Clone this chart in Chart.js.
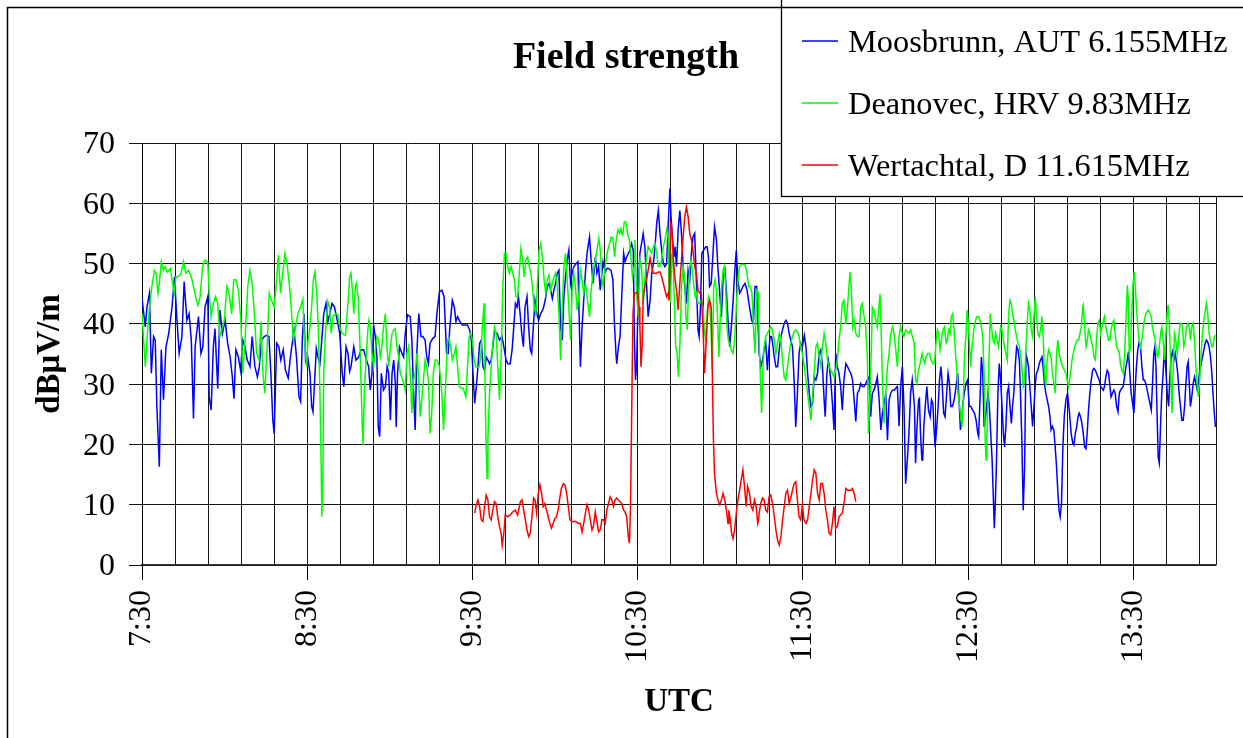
<!DOCTYPE html>
<html><head><meta charset="utf-8">
<script src="https://cdn.jsdelivr.net/npm/chart.js@4.4.1/dist/chart.umd.min.js"></script>
<style>html,body{margin:0;padding:0;background:#fff;overflow:hidden}</style>
</head><body>
<canvas id="c" width="1243" height="738"></canvas>
<script>
// ---------- data (minutes after 07:30 UTC, dBµV/m) ----------
const chartTitle = 'Field strength';
const xTitle = 'UTC';
const yTitle = 'dBμV/m';
const seriesNames = ['Moosbrunn, AUT 6.155MHz', 'Deanovec, HRV 9.83MHz', 'Wertachtal, D 11.615MHz'];
const seriesColors = ['#0000ff', '#00ff00', '#ff0000'];
const tickLabels = ['7:30', '8:30', '9:30', '10:30', '11:30', '12:30', '13:30'];
const gridStepMin = 12, labelStepMin = 60, spanMin = 390;
const yMin = 0, yMax = 70, yStep = 10;

const moosbrunn = [[0,44.2],[1.2,39.5],[1.8,42.8],[2.7,45.1],[3.4,31.8],[4.2,37.9],[4.8,37.3],[5.4,26.3],[6.3,16.3],[7.0,35.7],[7.8,27.4],[8.7,36.2],[9.7,38.4],[10.9,42.8],[11.8,47.8],[12.7,40.6],[13.5,35.1],[14.5,37.9],[15.3,47.0],[16.3,40.6],[17.1,41.7],[17.9,37.3],[18.7,24.3],[19.3,36.2],[20.5,41.2],[21.4,35.1],[22.1,36.2],[22.9,42.8],[23.9,44.5],[24.4,27.9],[25.1,25.7],[25.9,36.2],[26.5,39.2],[27.5,29.3],[28.3,42.3],[29.2,38.4],[30.2,40.6],[31.1,36.8],[32.0,34.5],[32.8,31.2],[33.4,27.6],[34.1,35.7],[35.0,34.5],[35.8,32.3],[36.6,37.3],[37.4,36.2],[38.2,34.0],[39.2,32.9],[40.0,37.9],[41.0,32.9],[41.9,31.2],[42.6,32.9],[43.4,37.3],[44.4,37.9],[45.2,38.1],[46.1,37.9],[46.8,31.8],[47.5,24.0],[48.0,21.8],[48.9,36.8],[49.7,36.2],[50.4,34.0],[51.3,35.7],[52.1,32.3],[53.1,31.0],[53.9,34.5],
[55.2,39.0],[56.1,34.5],[57.0,27.9],[57.6,27.1],[58.2,37.3],[58.8,41.7],[59.4,34.0],[60.0,35.1],[61.0,31.8],[61.6,26.3],[62.1,25.4],[62.7,30.7],[63.3,35.9],[63.9,34.5],[64.6,33.4],[65.2,36.8],[66.0,41.7],[66.8,43.4],[67.5,40.4],[68.2,41.7],[69.0,43.4],[69.9,42.8],[70.9,40.6],[71.8,38.4],[72.7,31.8],[73.3,29.6],[74.1,36.2],[74.8,35.1],[75.4,32.1],[75.9,32.9],[76.9,36.2],[77.7,34.0],[78.7,34.5],[79.5,35.7],[80.5,35.7],[81.5,34.0],[82.3,32.9],[82.9,29.0],[83.5,31.8],[84.1,39.8],[84.7,37.9],[85.3,34.5],[85.8,22.9],[86.3,21.3],[86.9,31.8],[87.7,29.0],[88.4,29.6],[89.0,32.9],[89.6,31.8],[90.2,24.0],[90.8,31.8],[91.4,34.0],[92.0,30.1],[92.3,22.9],[92.8,31.8],[93.5,36.2],[94.4,35.1],[95.0,34.5],[95.6,38.4],[96.4,41.5],[97.4,41.2],[98.0,37.3],[98.6,29.0],[99.2,22.4],[99.8,35.1],[100.5,41.7],[101.3,37.9],[102.0,37.9],[102.8,37.3],[103.4,34.5],[104.0,33.4],[104.6,36.8],[105.6,37.6],[106.4,37.9],[107.1,41.7],[108.0,45.3],[108.9,45.6],[109.7,44.5],
[110.6,35.1],[111.2,35.1],[111.8,39.5],[112.7,43.9],[113.4,42.8],[114.0,40.4],[114.6,41.2],[115.4,40.4],[116.3,39.8],[117.2,39.8],[118.2,39.8],[119.0,39.0],[119.6,37.3],[120.2,31.8],[120.8,26.8],[121.4,29.6],[122.0,32.9],[122.6,36.8],[123.2,37.3],[123.8,32.9],[124.4,32.3],[125.0,34.5],[125.6,34.0],[126.2,33.4],[126.8,34.0],[127.4,36.2],[128.0,38.7],[129.0,38.4],[129.8,37.3],[130.7,37.9],[131.4,36.2],[132.2,34.0],[132.8,33.4],[133.7,33.4],[134.4,35.7],[135.0,39.5],[135.6,43.4],[136.2,42.8],[136.7,44.5],[137.3,41.7],[137.9,38.4],[138.5,36.2],[139.1,42.8],[139.8,44.5],[140.4,39.5],[141.0,35.7],[141.5,35.1],[142.1,39.5],[142.7,43.9],[143.4,41.7],[144.0,40.6],[144.8,41.7],[145.7,42.5],[146.4,43.9],[147.2,46.2],[147.8,46.7],[148.4,45.6],[149.0,44.2],[149.6,45.6],[150.2,46.7],[150.8,48.4],[151.4,48.9],[152.0,39.5],[152.6,37.3],[153.2,44.5],[153.8,47.8],[154.4,50.6],[155.0,52.2],[155.6,46.7],[156.2,48.4],[156.8,49.5],[157.7,50.0],[158.3,50.3],[158.7,41.7],[159.2,32.9],[159.8,39.5],[160.4,43.9],[161.0,48.4],[161.6,51.7],[162.5,54.4],[163.1,50.6],[163.8,46.7],[164.6,51.1],[165.2,48.4],[165.8,49.5],[166.4,45.6],[167.4,50.3],
[168.2,48.6],[168.8,49.2],[169.4,49.2],[170.3,48.9],[171.0,47.3],[171.5,40.6],[172.1,35.1],[172.4,33.4],[173.0,36.2],[173.6,37.9],[174.2,44.5],[174.9,51.7],[175.4,50.3],[176.0,51.1],[176.6,51.7],[177.2,52.2],[177.8,53.3],[178.4,52.2],[178.8,37.3],[179.2,30.7],[179.6,32.9],[180.2,45.1],[180.8,51.7],[181.4,53.3],[182.0,55.0],[182.6,52.8],[183.2,46.7],[183.8,41.2],[184.5,43.9],[185.1,48.4],[185.7,50.0],[186.3,52.8],[186.9,56.7],[187.5,58.8],[188.1,55.0],[188.7,52.2],[189.3,50.0],[189.9,49.5],[190.5,50.0],[191.1,56.7],[191.7,62.5],[192.1,57.8],[192.7,53.9],[193.2,51.1],[193.6,52.8],[194.1,49.5],[194.7,55.6],[195.3,58.8],[195.9,55.0],[196.5,49.5],[197.1,46.2],[197.7,43.4],[198.3,48.9],[198.9,47.3],[199.5,51.7],[200.1,54.4],[200.7,55.0],[201.3,47.3],[201.9,39.0],[202.3,37.9],[202.8,42.8],[203.3,51.7],[203.9,52.2],[204.7,52.8],[205.2,52.8],[205.7,51.1],[206.1,46.2],[206.7,46.7],[207.4,52.2],[207.9,56.1],[208.6,53.9],[209.1,49.5],[209.8,45.1],[210.4,41.2],[211.0,47.3],[211.6,49.5],[212.2,45.6],[212.8,40.6],[213.4,36.2],[214.0,39.5],[214.6,43.4],[215.2,48.4],[215.8,52.2],[216.4,47.3],[217.0,45.1],[217.6,45.6],[218.2,46.2],[219.0,46.7],[219.7,45.6],[220.6,42.8],[221.4,40.6],[222.0,40.0],[222.6,46.2],[223.2,46.2],
[224.1,35.1],[224.7,32.9],[225.3,34.0],[225.9,35.7],[226.5,36.8],[227.1,32.3],[227.5,35.1],[228.1,37.9],[228.6,37.9],[229.0,36.8],[229.6,34.5],[230.2,32.9],[230.8,32.9],[231.4,35.7],[232.0,37.9],[232.6,39.0],[233.2,40.1],[233.8,40.6],[234.4,40.1],[235.0,38.4],[235.6,37.3],[236.2,36.2],[236.8,30.7],[237.4,22.9],[238.0,28.5],[238.6,35.1],[239.2,36.8],[239.8,36.2],[240.5,38.1],[241.1,36.2],[241.7,31.8],[242.3,28.5],[242.9,26.3],[243.5,26.8],[244.1,31.2],[244.7,30.7],[245.3,31.8],[245.9,35.1],[246.5,35.7],[247.1,32.9],[247.7,27.4],[248.1,24.6],[248.7,31.8],[249.2,34.0],[249.6,32.9],[250.1,30.7],[250.7,26.8],[251.3,22.4],[251.9,35.1],[252.5,32.9],[253.1,31.8],[253.7,29.6],[254.3,25.7],[254.9,30.7],[255.6,33.4],[256.2,32.9],[256.8,32.3],[257.4,31.8],[258.0,30.7],[258.6,27.4],[259.2,23.8],[259.8,28.5],[260.4,29.0],[261.0,30.1],[261.6,29.6],[262.2,29.6],[262.8,30.1],[263.4,30.7],[264.0,31.2],[264.6,24.6],[265.2,28.5],[265.8,29.0],[266.5,30.1],[267.0,31.2],[267.6,27.9],[268.3,22.4],[268.9,25.2],[269.5,26.8],[270.1,28.5],[270.7,20.7],[271.3,27.4],[271.9,28.5],[272.5,29.0],[273.1,29.0],[273.7,29.3],[274.3,29.6],[274.9,23.0],[275.5,29.6],[276.1,32.9],[276.7,26.3],[277.3,13.5],[277.9,17.4],[278.5,21.8],[279.1,28.5],[279.7,30.7],
[280.5,26.3],[280.9,16.9],[281.4,22.9],[282.0,27.4],[282.3,27.6],[282.7,21.8],[283.2,17.4],[283.5,17.4],[283.9,22.9],[284.5,26.8],[285.0,29.6],[285.6,25.7],[286.2,24.6],[286.7,27.4],[287.2,26.8],[287.5,23.5],[288.0,19.6],[288.6,22.9],[289.1,26.3],[289.6,30.7],[290.1,32.9],[290.5,30.7],[291.1,25.2],[291.6,24.6],[292.2,28.5],[292.7,31.8],[293.2,30.1],[293.7,26.3],[294.2,26.3],[294.6,26.8],[295.1,27.9],[295.6,29.6],[296.2,31.8],[296.8,26.3],[297.2,22.4],[297.7,24.0],[298.0,26.3],[298.6,28.5],[299.2,30.1],[299.8,30.7],[300.4,26.3],[301.0,26.3],[301.6,25.7],[302.3,25.2],[302.9,24.0],[303.5,21.8],[303.8,21.3],[304.3,27.4],[304.8,34.5],[305.3,31.8],[305.8,22.9],[306.2,24.0],[306.7,26.3],[307.2,28.5],[307.7,26.3],[308.2,21.8],[308.7,17.4],[309.1,11.9],[309.5,6.1],[309.9,10.8],[310.3,17.4],[310.8,28.5],[311.3,33.4],[311.8,30.7],[312.3,26.3],[312.8,21.8],[313.2,19.6],[313.7,22.9],[314.2,28.5],[314.7,29.6],[315.2,26.3],[315.7,23.5],[316.1,26.3],[316.6,28.5],[317.1,32.9],[317.6,36.2],[318.1,35.7],[318.6,34.0],[319.0,28.5],[319.5,20.7],[320.0,9.1],[320.5,16.3],[321.0,35.1],[321.5,34.0],[321.9,32.9],[322.4,29.6],[322.9,26.3],[323.4,23.0],[323.9,26.3],[324.4,30.1],[324.8,31.8],[325.3,32.3],[325.8,33.4],[326.3,34.0],[326.8,34.5],[327.2,32.9],[327.7,30.1],[328.2,28.5],[328.7,27.4],[329.2,26.3],[329.7,24.6],[330.1,22.4],[330.6,23.0],[331.1,22.4],[331.6,19.6],[332.1,16.3],[332.6,11.9],[333.0,9.1],[333.4,8.0],[333.9,10.2],[334.4,19.6],[334.9,24.6],[335.5,27.4],[336.1,28.5],
[336.8,25.2],[337.4,21.8],[338.0,20.2],[338.4,19.9],[338.9,21.8],[339.4,22.9],[339.9,24.6],[340.3,25.2],[340.8,24.6],[341.3,23.5],[341.8,21.8],[342.3,19.6],[342.8,19.3],[343.3,22.4],[343.7,25.7],[344.2,28.5],[344.7,30.7],[345.2,32.3],[345.7,32.6],[346.2,32.3],[346.6,31.8],[347.1,31.2],[347.6,30.7],[348.1,29.6],[348.6,29.3],[349.1,29.0],[349.5,29.6],[350.0,31.2],[350.5,32.3],[351.0,31.8],[351.5,29.6],[351.9,27.9],[352.4,28.5],[352.9,29.0],[353.4,28.5],[353.9,26.3],[354.4,25.4],[354.9,28.5],[355.3,29.0],[355.8,29.3],[356.3,29.6],[356.8,31.2],[357.3,32.9],[357.8,34.0],[358.2,35.4],[358.7,31.8],[359.2,28.5],[359.7,26.8],[360.2,25.2],[360.7,29.6],[361.1,32.9],[361.6,35.7],[362.1,37.0],[362.6,36.2],[363.1,32.9],[363.6,30.7],[364.0,30.7],[364.5,30.1],[365.0,29.0],[365.5,27.9],[366.0,26.8],[366.5,25.7],[366.9,29.6],[367.4,35.1],[367.8,36.2],[368.2,32.9],[368.6,25.2],[369.0,17.9],[369.4,16.9],[369.9,23.5],[370.3,28.5],[370.8,31.8],[371.3,36.2],[371.8,32.3],[372.3,28.5],[372.8,26.3],[373.2,30.7],[373.7,34.5],[374.2,35.4],[374.7,34.0],[375.2,35.1],[375.7,33.4],[376.1,31.8],[376.6,28.5],[377.1,26.3],[377.6,24.0],[378.1,24.0],[378.6,26.3],[379.0,29.6],[379.5,32.9],[379.9,33.7],[380.3,30.1],[380.7,26.3],[381.2,27.9],[381.7,30.1],[382.2,31.2],[382.7,30.1],[383.2,29.0],[383.6,30.1],[384.1,32.3],[384.6,33.4],[385.1,34.5],[385.6,35.7],[386.1,36.8],[386.5,37.3],[387.0,37.0],[387.5,36.2],[388.0,34.5],[388.5,31.8],[388.9,28.5],[389.4,25.2],[389.8,22.9]];

const deanovec = [[0,41.7],[1.2,32.9],[1.8,37.3],[2.7,42.8],[3.6,46.2],[4.5,48.9],[5.1,48.4],[5.8,45.1],[6.3,46.7],[7.0,50.3],[7.8,48.9],[8.4,49.5],[9.2,48.6],[10.3,49.2],[10.9,47.3],[11.7,45.1],[12.3,47.8],[13.3,47.9],[14.2,48.4],[15.1,50.3],[15.9,48.4],[16.9,48.9],[17.9,47.8],[18.7,46.2],[19.5,44.5],[20.3,43.1],[21.1,44.5],[22.0,49.5],[22.9,50.6],[23.9,50.0],[24.4,45.1],[25.1,41.2],[25.9,43.4],[26.7,44.5],[27.5,43.4],[28.3,37.9],[29.0,39.0],[29.9,40.6],[30.8,46.2],[31.6,45.1],[32.6,41.7],[33.3,47.3],[34.1,47.3],[35.0,45.6],[35.9,40.6],[36.6,31.8],[37.4,37.3],[38.4,46.2],[39.2,48.9],[40.0,46.7],[40.8,41.7],[41.6,35.1],[42.5,34.0],[43.2,40.4],[43.9,31.8],[44.6,28.5],[45.4,35.7],[46.2,45.1],[47.0,43.9],[48.0,42.8],[48.9,47.3],[49.5,51.4],[50.3,45.1],[51.1,48.4],[51.9,51.7],[52.8,49.5],[53.7,45.6],
[55.0,37.3],[55.8,39.5],[56.6,41.7],[57.6,42.8],[58.4,44.1],[59.0,37.3],[59.8,32.9],[60.2,36.8],[61.0,39.5],[61.6,42.8],[62.2,47.3],[62.8,48.6],[63.4,45.6],[64.0,39.5],[64.6,29.0],[65.1,15.2],[65.3,8.0],[65.7,15.2],[66.0,31.8],[66.6,38.4],[67.5,43.7],[68.1,42.8],[68.7,38.4],[69.4,41.2],[70.3,41.7],[71.1,41.5],[71.8,39.5],[72.7,38.4],[73.9,38.1],[74.7,42.8],[75.4,47.8],[75.9,48.4],[76.4,45.6],[76.9,41.7],[77.5,46.2],[77.9,46.7],[78.5,44.5],[79.1,37.3],[79.5,30.7],[80.0,22.9],[80.3,19.9],[80.7,28.5],[81.5,35.1],[82.0,39.0],[82.4,40.6],[82.9,39.5],[83.5,35.1],[84.1,32.9],[84.7,35.7],[85.3,37.9],[86.0,37.3],[86.5,34.5],[87.1,36.2],[87.7,39.5],[88.4,41.7],[89.0,35.7],[89.6,32.9],[90.2,36.2],[90.8,38.4],[91.4,39.0],[92.0,39.2],[92.6,36.2],[93.2,34.5],[93.8,31.8],[94.7,30.7],[95.6,29.0],[96.2,35.1],[96.8,36.2],[97.4,31.8],[98.0,25.2],[98.6,30.7],[99.2,31.8],[99.8,35.1],[100.4,31.8],[101.0,24.6],[101.6,27.4],[102.2,30.7],[102.8,34.0],[103.4,32.9],[104.0,30.7],[104.6,21.8],[105.2,25.2],[105.8,31.8],[106.4,34.0],[107.1,34.0],[108.0,32.9],[108.9,28.5],[109.5,22.4],
[111.0,37.3],[111.5,37.6],[112.1,36.2],[112.7,34.0],[113.4,35.1],[114.0,36.2],[114.6,32.9],[115.2,29.6],[116.0,29.3],[116.6,29.3],[117.2,28.5],[117.6,27.9],[118.2,32.9],[118.8,37.9],[119.4,38.4],[120.0,37.3],[120.6,34.0],[121.2,32.9],[121.8,32.9],[122.4,32.9],[123.0,34.5],[123.6,39.5],[124.2,43.4],[124.5,31.8],[124.9,20.8],[125.3,14.4],[125.6,20.8],[126.2,28.5],[126.8,32.9],[127.4,36.8],[128.0,39.5],[128.6,38.4],[129.2,32.9],[129.8,27.4],[130.4,34.5],[131.0,45.6],[131.6,51.7],[132.2,51.7],[132.8,49.5],[133.4,48.4],[134.0,49.5],[134.6,48.4],[135.2,47.3],[135.8,44.5],[136.4,44.5],[137.0,48.4],[137.6,52.5],[138.2,50.6],[138.8,47.8],[139.4,50.6],[140.0,51.1],[140.6,49.5],[141.2,48.4],[141.8,46.2],[142.4,42.8],[143.0,41.7],[143.6,46.7],[144.2,52.2],[144.8,53.3],[145.4,51.1],[146.0,47.3],[146.6,45.1],[147.2,47.3],[147.8,48.1],[148.4,45.6],[149.0,46.7],[149.6,47.8],[150.2,48.4],[150.8,46.2],[151.4,41.7],[152.0,34.0],[152.6,42.8],[153.2,49.5],[153.8,51.7],[154.4,47.3],[155.0,42.8],[155.6,37.3],[156.2,45.6],[156.8,48.4],[157.4,46.2],[158.0,42.3],[158.6,44.5],[159.2,48.9],[159.8,47.3],[160.4,45.1],[161.0,46.7],[161.6,44.5],[162.5,41.2],[163.1,45.6],[163.8,48.4],[164.6,50.6],[165.2,52.2],[165.9,54.2],[166.4,52.2],
[167.0,47.3],[167.4,46.2],[167.9,48.4],[168.5,50.6],[169.1,52.2],[169.8,53.3],[170.4,54.4],[171.0,54.2],[171.6,51.1],[172.2,53.9],[172.8,55.6],[173.4,55.0],[173.9,55.8],[174.2,55.0],[174.6,54.7],[175.1,56.9],[175.7,56.9],[176.3,55.0],[177.0,53.9],[177.6,50.6],[178.1,47.8],[178.7,49.5],[179.0,53.9],[179.6,45.1],[180.2,41.2],[180.8,50.6],[181.4,49.5],[182.0,43.4],[182.6,47.3],[183.2,51.1],[183.8,52.8],[184.5,52.2],[185.1,51.7],[185.7,52.8],[186.3,53.3],[186.9,51.7],[187.5,49.5],[188.1,49.5],[188.7,50.6],[189.3,52.8],[189.9,53.9],[190.5,55.6],[191.1,54.4],[191.4,44.5],[191.9,43.9],[192.4,51.7],[192.9,49.5],[193.4,42.8],[193.8,36.2],[194.3,35.1],[194.8,31.2],[195.3,36.2],[195.9,46.2],[196.5,49.5],[197.1,47.3],[197.5,41.2],[198.0,39.0],[198.4,45.1],[198.9,49.5],[199.4,50.6],[199.9,48.4],[200.4,46.2],[200.9,44.5],[201.3,45.1],[201.9,43.4],[202.5,43.4],[203.1,43.9],[203.7,42.8],[204.3,38.4],[204.7,37.3],[205.2,41.7],[205.7,44.5],[206.1,43.9],[206.6,39.5],[207.1,32.3],[207.6,46.2],[208.1,47.3],[208.6,45.6],[209.1,39.5],[209.5,34.5],[210.0,41.2],[210.5,46.2],[211.0,48.9],[211.4,49.5],[211.9,46.7],[212.4,39.5],[212.9,37.3],[213.4,36.8],[213.9,35.7],[214.6,35.1],[215.2,37.3],[215.8,42.8],[216.4,47.3],[217.0,49.5],[217.6,49.8],[218.2,49.9],[219.0,49.8],[219.7,48.4],[220.3,46.2],[220.9,46.2],[221.5,45.1],[222.1,39.0],[222.6,35.1],[223.2,45.6],[223.9,45.1],
[224.1,37.3],[224.5,31.8],[225.0,25.2],[225.5,32.9],[225.9,36.2],[226.5,37.9],[227.1,38.4],[227.7,39.0],[228.3,39.5],[228.9,39.0],[229.6,37.3],[230.2,35.1],[230.8,36.8],[231.4,38.4],[232.0,37.3],[232.6,34.0],[233.2,31.2],[233.8,30.7],[234.4,32.9],[235.0,35.1],[235.6,36.8],[236.2,37.9],[236.8,38.7],[237.4,39.0],[238.0,38.7],[238.6,37.9],[239.2,36.2],[239.8,35.1],[240.5,32.9],[241.1,30.7],[241.7,28.5],[242.3,26.3],[242.9,24.0],[243.5,27.9],[244.1,31.8],[244.7,36.2],[245.3,36.8],[245.9,34.5],[246.5,32.9],[247.1,36.2],[247.7,38.4],[248.3,36.8],[248.9,34.0],[249.5,32.9],[250.1,32.3],[250.7,31.8],[251.3,31.2],[251.9,32.3],[252.5,34.0],[253.1,37.3],[253.7,39.5],[254.3,43.4],[254.9,43.9],[255.6,40.0],[256.2,42.8],[256.8,46.7],[257.1,48.6],[257.6,45.6],[258.1,39.5],[258.6,40.6],[259.2,38.4],[259.8,37.9],[260.4,37.9],[261.0,42.8],[261.6,43.4],[262.2,41.2],[262.8,39.5],[263.4,34.5],[263.8,21.8],[264.4,28.5],[264.9,36.8],[265.2,42.8],[265.8,42.3],[266.5,40.6],[267.0,39.5],[267.6,42.8],[268.0,45.0],[268.5,37.3],[269.0,28.5],[269.5,23.5],[270.1,28.5],[270.7,33.0],[271.3,35.1],[271.9,38.4],[272.5,39.5],[273.1,38.4],[273.7,35.7],[274.3,32.9],[274.9,37.9],[275.5,39.5],[276.1,38.4],[276.7,37.9],[277.3,39.0],[277.9,38.7],[278.5,38.4],[279.1,39.0],
[280.4,36.8],[280.9,30.7],[281.4,30.1],[281.8,31.8],[282.3,32.9],[282.8,34.0],[283.3,35.1],[283.8,34.0],[284.3,33.4],[284.7,34.5],[285.3,35.1],[286.0,35.1],[286.5,34.0],[287.2,33.4],[287.8,33.4],[288.4,37.3],[288.8,39.0],[289.3,38.4],[289.8,35.7],[290.3,37.3],[290.8,39.0],[291.4,39.5],[292.0,36.8],[292.5,37.3],[292.9,39.0],[293.4,38.4],[293.9,41.2],[294.4,41.7],[294.9,39.0],[295.4,35.1],[295.9,32.3],[296.3,28.5],[296.8,26.8],[297.3,24.6],[297.8,22.9],[298.3,28.5],[298.7,35.1],[299.2,37.9],[299.6,42.3],[300.0,40.6],[300.4,37.3],[300.9,32.9],[301.4,36.2],[301.9,38.4],[302.4,40.1],[302.9,40.9],[303.3,41.2],[303.8,41.2],[304.3,40.6],[304.8,39.5],[305.3,37.9],[305.8,31.8],[306.2,20.7],[306.5,17.4],[306.8,20.7],[307.2,27.4],[307.7,36.2],[308.0,41.7],[308.5,39.5],[309.0,37.3],[309.5,36.8],[310.0,38.4],[310.5,37.3],[311.0,36.2],[311.3,37.3],[311.8,39.5],[312.3,39.0],[312.8,37.3],[313.2,36.2],[313.7,35.1],[314.2,34.0],[314.7,41.7],[315.2,43.9],[315.7,43.4],[316.1,41.7],[316.6,40.6],[317.1,39.0],[317.6,37.9],[318.1,36.8],[318.6,36.2],[319.0,35.1],[319.5,32.9],[320.0,29.6],[320.5,30.7],[321.0,36.2],[321.5,40.6],[321.9,43.4],[322.4,42.3],[322.9,39.0],[323.4,37.9],[323.9,41.2],[324.4,44.5],[324.8,41.2],[325.3,38.4],[325.8,37.9],[326.3,39.0],[326.8,41.2],[327.3,37.3],[327.7,31.8],[328.2,29.6],[328.7,34.0],[329.2,35.7],[329.7,35.1],[330.1,34.5],[330.6,31.8],[331.1,30.1],[331.6,28.5],[332.1,35.1],[332.6,37.3],[333.0,35.1],[333.6,34.0],[334.3,32.9],[334.9,32.3],[335.5,31.8],[336.4,29.6],
[337.2,31.8],[337.7,34.0],[338.2,35.1],[338.7,36.2],[339.1,36.8],[339.6,37.3],[340.1,37.3],[340.6,38.4],[341.1,39.5],[341.6,42.8],[341.8,43.1],[342.3,39.5],[342.8,36.2],[343.3,37.3],[343.7,39.0],[344.2,38.4],[344.7,37.3],[345.2,36.2],[345.7,34.5],[346.2,34.0],[346.6,37.3],[347.1,40.1],[347.6,40.6],[348.1,38.4],[348.6,39.5],[349.1,40.6],[349.5,41.2],[350.0,39.5],[350.5,38.4],[351.0,37.3],[351.5,37.3],[351.9,39.0],[352.4,40.1],[352.9,40.6],[353.4,38.4],[353.9,36.2],[354.4,35.7],[354.9,35.1],[355.3,33.4],[355.8,32.3],[356.3,31.8],[356.8,34.5],[357.3,40.6],[357.8,46.4],[358.1,44.5],[358.5,35.1],[359.0,36.2],[359.4,41.7],[359.9,46.7],[360.3,48.6],[360.7,46.2],[361.1,42.8],[361.6,39.5],[362.1,37.3],[362.6,36.2],[363.1,37.3],[363.6,39.5],[364.0,40.6],[364.5,41.7],[365.0,42.0],[365.5,42.3],[366.0,41.7],[366.5,41.2],[366.9,39.5],[367.4,38.4],[367.9,37.3],[368.4,35.1],[368.9,34.5],[369.4,36.2],[369.9,38.4],[370.3,39.5],[370.8,37.3],[371.3,34.0],[371.8,38.4],[372.3,41.7],[372.6,43.1],[373.0,40.6],[373.5,34.0],[374.0,25.2],[374.4,31.8],[374.9,38.4],[375.4,37.3],[375.9,35.1],[376.4,37.3],[376.9,40.1],[377.3,40.1],[377.8,39.5],[378.3,36.2],[378.8,37.3],[379.3,39.5],[379.8,40.1],[380.3,39.5],[380.7,37.3],[381.2,39.5],[381.7,40.1],[382.2,37.3],[382.7,32.9],[383.2,29.6],[383.6,27.9],[384.1,30.7],[384.6,35.1],[385.1,38.4],[385.6,40.6],[386.1,42.3],[386.5,43.4],[387.0,41.7],[387.5,38.4],[388.0,37.3],[388.5,36.2],[388.9,36.2],[389.4,37.9],[389.8,38.1]];

const wertachtal = [[120.8,8.6],[121.4,10.0],[122.0,10.8],[122.6,9.7],[123.2,7.5],[123.8,7.2],[124.4,9.7],[125.0,11.6],[125.6,10.8],[126.2,8.0],[126.8,7.5],[127.4,9.1],[128.0,10.5],[128.6,10.2],[129.2,8.0],[129.8,6.4],[130.4,5.3],[130.8,3.3],[131.4,5.3],[131.9,8.3],[132.8,8.0],[133.7,8.3],[134.6,8.8],[135.5,9.1],[136.4,8.3],[137.4,10.5],[138.0,10.8],[138.6,9.1],[139.2,7.5],[139.8,5.8],[140.4,4.7],[141.0,5.3],[141.6,8.0],[142.2,11.1],[142.7,10.8],[143.3,8.6],[143.9,11.9],[144.5,13.3],[145.1,11.9],[145.7,9.7],[146.3,10.2],[146.9,9.1],[147.5,8.0],[148.1,6.9],[148.7,6.1],[149.3,6.9],[149.9,7.7],[150.5,8.0],[151.1,9.1],[151.7,11.1],[152.3,12.7],[153.0,13.5],[153.6,13.3],[154.2,11.9],[154.8,9.7],[155.4,7.5],[156.2,7.2],[157.4,7.2],[158.6,6.9],[159.2,6.9],[159.8,5.5],[160.4,6.9],[161.0,8.6],[161.6,10.0],[162.2,9.1],[162.8,7.5],[163.4,5.8],[164.0,6.6],[164.6,8.8],[165.2,7.2],[165.8,5.5],[166.4,5.8],[167.0,7.5],
[167.6,7.5],[168.2,6.9],[168.8,9.1],[169.4,10.2],[170.0,11.3],[170.6,10.8],[171.2,9.7],[171.8,10.8],[172.4,11.1],[173.0,10.8],[173.6,10.5],[174.2,10.2],[174.9,9.1],[175.4,8.8],[176.0,8.0],[176.6,4.7],[177.0,3.6],[177.4,9.7],[177.7,20.8],[178.0,31.8],[178.3,41.7],[178.8,45.1],[179.4,45.1],[180.0,45.1],[180.5,42.8],[180.8,39.5],[181.2,32.9],[181.6,36.2],[182.0,44.5],[182.6,46.2],[183.2,47.3],[183.8,48.9],[184.5,50.9],[185.1,49.5],[185.7,48.4],[186.3,48.4],[186.9,48.4],[187.5,48.6],[188.1,48.6],[188.7,47.8],[189.3,46.7],[189.9,45.6],[190.5,44.5],[191.1,45.1],[191.4,43.9],[191.9,56.7],[192.3,56.1],[192.9,51.1],[193.5,47.8],[194.1,45.6],[194.7,42.3],[195.3,46.7],[195.9,50.6],[196.5,54.4],[197.1,57.8],[197.7,59.4],[198.3,57.8],[198.9,55.0],[199.5,53.9],[200.1,52.2],[200.7,49.5],[201.3,48.4],[201.9,45.6],[202.5,45.1],[203.1,45.1],[203.7,39.5],[204.3,31.8],[204.9,37.3],[205.5,42.8],[206.1,43.9],[206.7,42.8],[207.1,31.8],[207.5,20.8],[207.9,15.2],[208.6,11.9],[209.1,10.8],[209.8,10.0],[210.4,10.8],[211.0,11.9],[211.6,10.8],[212.2,9.1],[212.8,6.9],[213.1,9.1],[213.6,7.5],[214.1,5.3],[214.6,4.4],[215.2,5.8],[215.8,8.6],[216.4,10.8],[217.0,12.4],[217.6,14.1],[218.2,15.8],[218.8,13.0],[219.4,9.7],[219.9,13.0],[220.6,11.9],[221.2,9.7],[221.8,9.1],[222.4,10.8],[223.0,9.7],[223.6,6.9],[223.9,7.5],
[224.1,8.6],[224.7,10.2],[225.3,11.1],[225.9,10.8],[226.5,9.1],[227.1,8.8],[227.7,11.3],[228.3,11.6],[229.0,10.2],[229.6,8.0],[230.2,5.8],[230.8,4.1],[231.4,3.3],[232.0,4.7],[232.6,7.5],[233.2,9.7],[233.8,11.9],[234.4,12.4],[235.0,10.2],[235.6,11.1],[236.2,12.4],[236.8,13.5],[237.4,13.8],[238.0,10.8],[238.6,8.0],[239.2,7.5],[239.8,10.0],[240.4,7.5],[241.1,6.9],[241.7,7.5],[242.3,9.7],[242.9,11.9],[243.5,14.1],[244.1,15.8],[244.7,15.2],[245.3,11.9],[245.9,10.8],[246.5,13.5],[247.1,13.5],[247.7,11.9],[248.3,9.1],[248.9,7.5],[249.5,5.3],[250.1,5.0],[250.7,6.9],[251.3,9.7],[251.9,6.1],[252.5,6.4],[253.1,8.0],[253.7,8.3],[254.3,8.6],[254.9,10.2],[255.6,12.7],[256.2,12.4],[256.8,12.4],[257.4,12.4],[258.0,12.7],[258.6,11.9],[259.2,10.5]];

const seriesData = [moosbrunn, deanovec, wertachtal];

// ---------- tick positions (every 12 min, labels every hour) ----------
const gridTicks = [];
for (let v = 0; v < spanMin; v += gridStepMin) gridTicks.push(v);
gridTicks.push(spanMin);

const SERIF = '"Liberation Serif", "Times New Roman", serif';

const decor = {
  id: 'decor',
  beforeDraw(chart) {
    const ctx = chart.ctx;
    ctx.save();
    ctx.fillStyle = '#fff';
    ctx.fillRect(0, 0, chart.width, chart.height);
    ctx.strokeStyle = '#000';
    ctx.lineWidth = 1.5;
    ctx.beginPath();
    ctx.moveTo(7.5, chart.height + 2);
    ctx.lineTo(7.5, 7.5);
    ctx.lineTo(chart.width + 2, 7.5);
    ctx.stroke();
    ctx.restore();
  },
  afterDraw(chart) {
    const ctx = chart.ctx, a = chart.chartArea;
    ctx.save();
    ctx.fillStyle = '#000';
    ctx.textBaseline = 'alphabetic';
    ctx.textAlign = 'center';
    ctx.font = 'bold 38px ' + SERIF;
    ctx.fillText(chartTitle, 626, 68);
    ctx.font = 'bold 33px ' + SERIF;
    ctx.fillText(xTitle, (a.left + a.right) / 2, 711);
    ctx.save();
    ctx.translate(59, (a.top + a.bottom) / 2);
    ctx.rotate(-Math.PI / 2);
    ctx.fillText(yTitle, 0, 0);
    ctx.restore();
    // legend box
    ctx.fillStyle = '#fff';
    ctx.fillRect(781, 0, 480, 196);
    ctx.strokeStyle = '#000';
    ctx.lineWidth = 1.3;
    ctx.strokeRect(781.5, -5, 480, 201.5);
    ctx.beginPath(); ctx.moveTo(781, 7.5); ctx.lineTo(1250, 7.5); ctx.stroke();
    ctx.textAlign = 'left';
    ctx.font = '32.4px ' + SERIF;
    chart.data.datasets.forEach((ds, i) => {
      const yb = 52 + i * 62;
      ctx.strokeStyle = ds.borderColor;
      ctx.lineWidth = 1.3;
      ctx.beginPath(); ctx.moveTo(802, yb - 11); ctx.lineTo(838, yb - 11); ctx.stroke();
      ctx.fillStyle = '#000';
      ctx.fillText(ds.label, 848, yb);
    });
    ctx.restore();
  }
};

new Chart(document.getElementById('c'), {
  type: 'line',
  data: {
    datasets: seriesData.map((d, i) => ({
      label: seriesNames[i],
      data: d.map(p => ({x: p[0], y: p[1]})),
      borderColor: seriesColors[i],
      backgroundColor: seriesColors[i],
      borderWidth: 1.5,
      pointRadius: 0,
      tension: 0,
      fill: false,
      order: 3 - i
    }))
  },
  options: {
    responsive: false,
    animation: false,
    devicePixelRatio: 1,
    layout: {padding: {left: 7, top: 143, right: 27, bottom: 0}},
    plugins: {legend: {display: false}, title: {display: false}, tooltip: {enabled: false}},
    scales: {
      x: {
        type: 'linear', min: 0, max: spanMin,
        afterBuildTicks: axis => { axis.ticks = gridTicks.map(v => ({value: v})); },
        afterFit: s => { s.height = 173; s.paddingLeft = 0; s.paddingRight = 0; },
        ticks: {
          autoSkip: false, minRotation: 90, maxRotation: 90, padding: 10,
          color: '#000', font: {family: SERIF, size: 32},
          callback: v => (v % labelStepMin === 0 && v < spanMin) ? tickLabels[v / labelStepMin] : ''
        },
        grid: {
          color: '#1a1a1a', lineWidth: 1, drawTicks: true, tickLength: 15, tickWidth: 1,
          tickColor: c => (c.tick && c.tick.value % labelStepMin === 0 && c.tick.value < spanMin) ? '#000' : 'rgba(0,0,0,0)'
        },
        border: {color: '#333', width: 1.5}
      },
      y: {
        min: yMin, max: yMax,
        afterFit: s => { s.width = 135; s.paddingTop = 0; s.paddingBottom = 0; },
        ticks: {stepSize: yStep, padding: 14, labelOffset: 2, color: '#000', font: {family: SERIF, size: 32}},
        grid: {color: '#111', lineWidth: 1, tickLength: 13},
        border: {color: '#000', width: 1}
      }
    }
  },
  plugins: [decor]
});
</script>
</body></html>
